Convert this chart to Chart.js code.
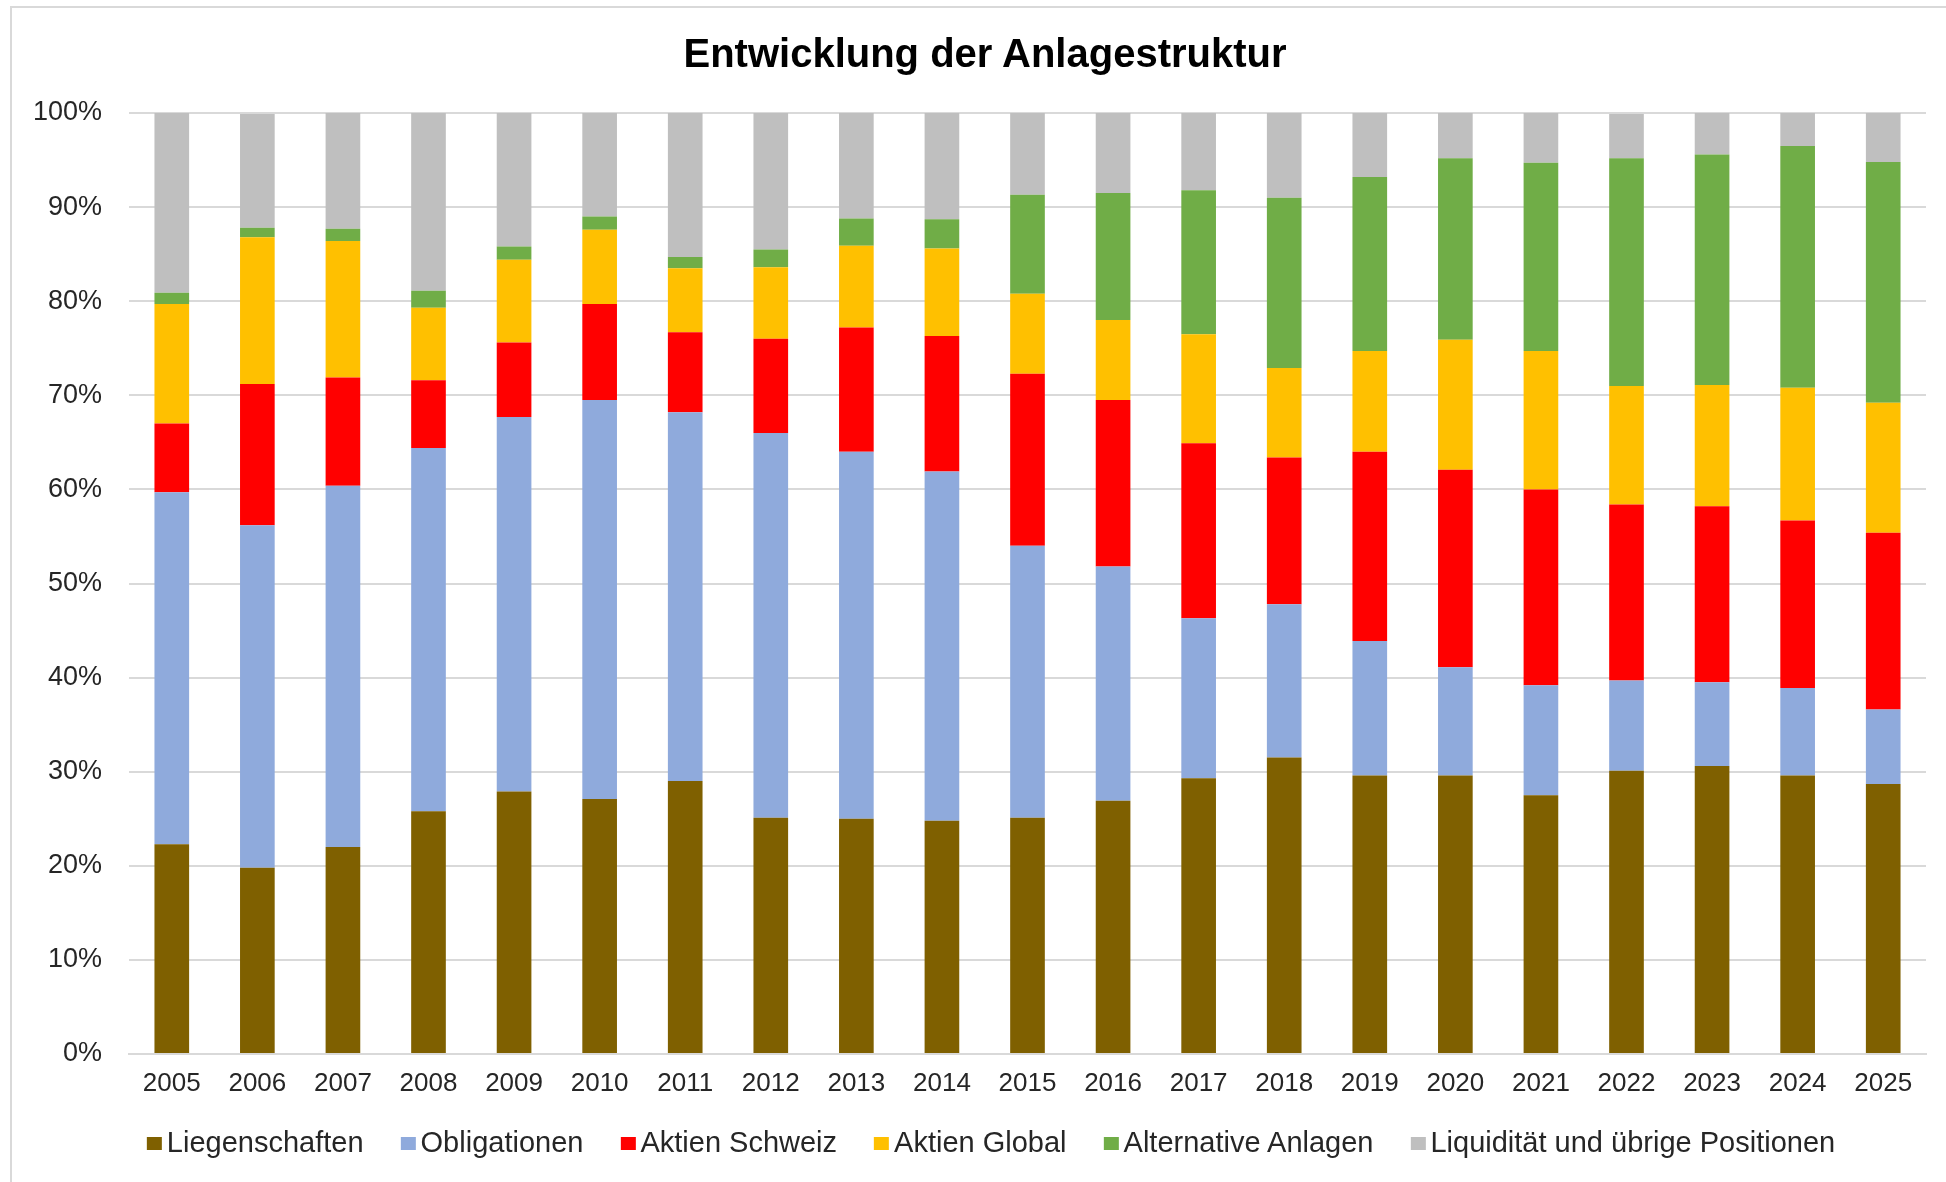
<!DOCTYPE html>
<html lang="de">
<head>
  <meta charset="UTF-8">
  <title>Entwicklung der Anlagestruktur</title>
  <script src="https://cdn.jsdelivr.net/npm/chart.js"></script>
  <style>
    * { margin: 0; padding: 0; box-sizing: border-box; }
    body {
      width: 1946px;
      height: 1182px;
      overflow: hidden;
      background: #ffffff;
      font-family: 'Liberation Sans', Arial, sans-serif;
      position: relative;
    }
    .frame {
      position: absolute;
      left: 10px;
      top: 6px;
      width: 2000px;
      height: 1300px;
      border: 2px solid #d9d9d9;
    }
    .chart-box {
      position: absolute;
      left: 0;
      top: 0;
      width: 1946px;
      height: 1182px;
    }
    h1 {
      position: absolute;
      left: 985px;
      top: 29px;
      transform: translateX(-50%);
      font-size: 40px;
      line-height: 48px;
      font-weight: bold;
      color: #000000;
      white-space: nowrap;
    }
    .legend {
      position: absolute;
      left: 991px;
      top: 1126px;
      height: 32px;
      transform: translateX(-50%);
      display: flex;
      align-items: center;
      white-space: nowrap;
      font-size: 29px;
      line-height: 32px;
      color: #262626;
    }
    .legend .item { display: flex; align-items: center; margin-right: 37px; }
    .legend .item:last-child { margin-right: 0; }
    .legend .sw { width: 15px; height: 13px; margin-right: 5px; margin-top: 2px; }
  </style>
</head>
<body>
  <div class="frame"></div>
  <div class="chart-box">
    <canvas id="anlageChart"></canvas>
  </div>
  <h1>Entwicklung der Anlagestruktur</h1>
  <div class="legend" id="legend"></div>

  <script>
    const years = ['2005', '2006', '2007', '2008', '2009', '2010', '2011', '2012', '2013', '2014',
      '2015', '2016', '2017', '2018', '2019', '2020', '2021', '2022', '2023', '2024', '2025'];

    // Anteile in Prozent, von unten nach oben gestapelt
    const liegenschaften = [22.3, 19.8, 22.0, 25.8, 27.9, 27.1, 29.0, 25.1, 25.0, 24.8, 25.1, 26.9, 29.3, 31.5, 29.6, 29.6, 27.5, 30.1, 30.6, 29.6, 28.7];
    const obligationen   = [37.4, 36.4, 38.4, 38.6, 39.8, 42.4, 39.2, 40.9, 39.0, 37.1, 28.9, 24.9, 17.0, 16.3, 14.3, 11.5, 11.7, 9.6, 8.9, 9.3, 7.9];
    const aktienSchweiz  = [7.3, 15.0, 11.5, 7.2, 7.9, 10.2, 8.5, 10.0, 13.2, 14.4, 18.3, 17.7, 18.6, 15.6, 20.1, 21.0, 20.8, 18.7, 18.7, 17.8, 18.8];
    const aktienGlobal   = [12.7, 15.6, 14.5, 7.7, 8.8, 7.9, 6.8, 7.6, 8.7, 9.3, 8.5, 8.5, 11.6, 9.5, 10.7, 13.8, 14.7, 12.6, 12.9, 14.1, 13.8];
    const alternative    = [1.2, 1.0, 1.3, 1.8, 1.4, 1.4, 1.2, 1.9, 2.9, 3.1, 10.5, 13.5, 15.3, 18.1, 18.5, 19.3, 20.0, 24.2, 24.5, 25.7, 25.6];
    const liquiditaet    = [19.1, 12.1, 12.3, 18.9, 14.2, 11.0, 15.3, 14.5, 11.2, 11.3, 8.7, 8.5, 8.2, 9.0, 6.8, 4.9, 5.3, 4.7, 4.4, 3.5, 5.3];

    const seriesNames = ['Liegenschaften', 'Obligationen', 'Aktien Schweiz', 'Aktien Global', 'Alternative Anlagen', 'Liquidität und übrige Positionen'];
    const seriesData = [liegenschaften, obligationen, aktienSchweiz, aktienGlobal, alternative, liquiditaet];
    const seriesColors = ['#7f6000', '#8faadc', '#ff0000', '#ffc000', '#70ad47', '#bfbfbf'];

    const textColor = '#262626';
    const gridColor = '#d9d9d9';

    const datasets = seriesNames.map((name, i) => ({
      label: name,
      data: seriesData[i],
      backgroundColor: seriesColors[i],
      borderWidth: 0,
      categoryPercentage: 1.0,
      barPercentage: 0.405
    }));

    const ctx = document.getElementById('anlageChart').getContext('2d');
    const anlageChart = new Chart(ctx, {
      type: 'bar',
      data: { labels: years, datasets: datasets },
      options: {
        responsive: true,
        maintainAspectRatio: false,
        animation: false,
        layout: { padding: { left: 0, right: 20, top: 113, bottom: 83 } },
        plugins: {
          legend: { display: false },
          tooltip: { enabled: false },
          title: { display: false }
        },
        scales: {
          x: {
            stacked: true,
            grid: { display: false, drawTicks: false },
            border: { display: true, color: gridColor, width: 2 },
            ticks: {
              color: textColor,
              padding: 14,
              maxRotation: 0,
              font: { family: "'Liberation Sans', Arial, sans-serif", size: 26 }
            },
            afterFit: scale => { scale.height = 45; }
          },
          y: {
            stacked: true,
            min: 0,
            max: 100,
            grid: { color: gridColor, lineWidth: 2, drawTicks: false },
            border: { display: false },
            ticks: {
              stepSize: 10,
              color: textColor,
              padding: 27,
              font: { family: "'Liberation Sans', Arial, sans-serif", size: 27 },
              callback: v => v + '%'
            },
            afterFit: scale => { scale.width = 129; }
          }
        }
      }
    });

    // Legende in Excel-Optik
    const legend = document.getElementById('legend');
    seriesNames.forEach((name, i) => {
      const item = document.createElement('div');
      item.className = 'item';
      const sw = document.createElement('span');
      sw.className = 'sw';
      sw.style.background = seriesColors[i];
      const txt = document.createElement('span');
      txt.textContent = name;
      item.appendChild(sw);
      item.appendChild(txt);
      legend.appendChild(item);
    });
  </script>
</body>
</html>
